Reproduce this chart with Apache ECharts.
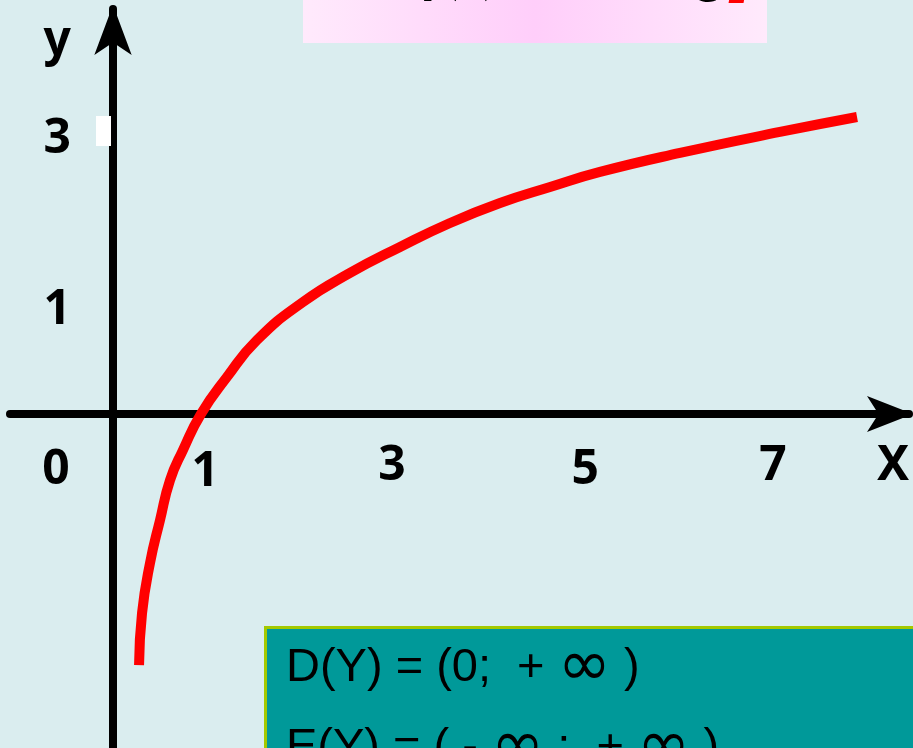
<!DOCTYPE html>
<html>
<head>
<meta charset="utf-8">
<script src="https://cdn.jsdelivr.net/npm/echarts@6/dist/echarts.min.js"></script>
<style>
html,body{margin:0;padding:0;background:#daedef;}
#c{width:913px;height:748px;}
</style>
</head>
<body>
<div id="c"></div>
<script>
// ---- data (y = log2 x, hand drawn) ----
const curveX = [0.278, 0.310, 0.395, 0.502, 0.609, 0.747, 0.940, 1.217, 1.538, 2.029, 2.531, 3.065, 3.599, 4.133, 4.667, 5.200, 6.055, 7.122, 7.945];
const curveY = [-2.670, -2.117, -1.586, -1.129, -0.704, -0.385, 0.000, 0.391, 0.784, 1.188, 1.496, 1.772, 2.027, 2.239, 2.409, 2.569, 2.771, 2.994, 3.153];
const xTickLabels = [0, 1, 3, 5, 7];
const yTickLabels = [1, 3];
const xAxisName = 'X';
const yAxisName = 'y';
const titleLeft = 'f(x) =';
const titleLog = 'log';
const titleBase = '2';
const titleArg = 'x';
const domainParts = ['D(Y) = (0;  + ', '\u221E', ' )'];
const rangeParts = ['E(Y) = ( - ', '\u221E', ' ;  + ', '\u221E', ' )'];

const chart = echarts.init(document.getElementById('c'), null, {renderer: 'canvas'});

const lblFont = {fontFamily: '"Noto Sans"', fontWeight: 'bold', fontSize: 48, color: '#000'};

const xRich = {
  a0: Object.assign({}, lblFont, {padding: [4, 114, 0, 0]}),
  a1: Object.assign({}, lblFont, {padding: [6, 3, 0, 0]}),
  a3: Object.assign({}, lblFont, {padding: [0, 4, 0, 0]}),
  a5: Object.assign({}, lblFont, {padding: [4, 0, 0, 8]}),
  a7: Object.assign({}, lblFont, {padding: [0, 0, 0, 9]})
};
const yRich = {
  b1: Object.assign({}, lblFont, {padding: [0, 0, 18, 0]}),
  b3: Object.assign({}, lblFont, {padding: [15, 0, 0, 0]})
};

function boxText(parts) {
  return parts.map(function (p) { return p === '\u221E' ? '{i|' + p + '}' : '{n|' + p + '}'; }).join('');
}
const boxRich = {
  n: {fontFamily: '"Liberation Sans"', fontSize: 47, fill: '#000', color: '#000'},
  i: {fontFamily: '"DejaVu Sans"', fontSize: 64, fill: '#000', color: '#000'}
};

const option = {
  backgroundColor: '#daedef',
  animation: false,
  grid: {left: 10, right: 4, top: 9, bottom: 0, containLabel: false, outerBoundsMode: 'none'},
  xAxis: {
    type: 'value',
    position: 'bottom',
    offset: -334,
    min: -1.1,
    max: 8.5,
    axisLine: {
      onZero: false,
      lineStyle: {color: '#000', width: 8},
      symbol: ['none', 'arrow'],
      symbolSize: [27, 46],
      symbolOffset: [0, 4]
    },
    axisTick: {show: false},
    splitLine: {show: false},
    axisLabel: {
      customValues: xTickLabels,
      margin: 28,
      verticalAlign: 'top',
      formatter: function (v) { return '{a' + v + '|' + v + '}'; },
      rich: xRich
    },
    name: xAxisName,
    nameLocation: 'end',
    nameGap: -16,
    nameTextStyle: Object.assign({}, lblFont, {align: 'center', verticalAlign: 'top', padding: [28, 0, 0, 0]})
  },
  yAxis: {
    type: 'value',
    position: 'left',
    offset: -103,
    min: -3.55,
    max: 4.3,
    axisLine: {
      onZero: false,
      lineStyle: {color: '#000', width: 8},
      symbol: ['none', 'arrow'],
      symbolSize: [28, 50],
      symbolOffset: [0, 4]
    },
    axisTick: {show: false},
    splitLine: {show: false},
    axisLabel: {
      customValues: yTickLabels,
      margin: 42,
      formatter: function (v) { return '{b' + v + '|' + v + '}'; },
      rich: yRich
    },
    name: yAxisName,
    nameLocation: 'end',
    nameGap: -32,
    nameTextStyle: Object.assign({}, lblFont, {align: 'right', verticalAlign: 'middle', padding: [0, 42, 0, 0]})
  },
  series: [{
    type: 'line',
    data: curveX.map(function (x, i) { return [x, curveY[i]]; }),
    smooth: 0.5,
    showSymbol: false,
    symbol: 'none',
    lineStyle: {color: '#ff0000', width: 10, cap: 'butt'},
    z: 5
  }],
  graphic: [
    {
      type: 'rect', z: 1,
      shape: {x: 303, y: -2, width: 464, height: 45},
      style: {fill: new echarts.graphic.LinearGradient(0, 0, 1, 0, [
        {offset: 0, color: '#ffeafc'}, {offset: 0.5, color: '#ffcefa'}, {offset: 1, color: '#ffeafc'}])}
    },
    {
      type: 'text', z: 2, x: 424, y: -25,
      style: {text: titleLeft, font: 'italic bold 56px "Liberation Serif"', fill: '#000', verticalAlign: 'middle', align: 'left'}
    },
    {
      type: 'text', z: 2, x: 728, y: -24,
      style: {text: titleLog, font: 'italic bold 56px "Liberation Serif"', fill: '#000', verticalAlign: 'middle', align: 'right'}
    },
    {
      type: 'text', z: 2, x: 729, y: -6,
      style: {text: titleBase, font: 'italic bold 36px "Liberation Serif"', fill: '#ff0000', verticalAlign: 'middle', align: 'left'}
    },
    {
      type: 'text', z: 2, x: 752, y: -30,
      style: {text: titleArg, font: 'italic bold 56px "Liberation Serif"', fill: '#000', verticalAlign: 'middle', align: 'left'}
    },
    {
      type: 'rect', z: 1,
      shape: {x: 96, y: 116, width: 15, height: 30},
      style: {fill: '#ffffff'}
    },
    {
      type: 'rect', z: 1,
      shape: {x: 265.5, y: 627.5, width: 700, height: 200},
      style: {fill: '#009999', stroke: '#a4c900', lineWidth: 3}
    },
    {
      type: 'text', z: 2, x: 286, y: 668,
      style: {text: boxText(domainParts), rich: boxRich, verticalAlign: 'middle', align: 'left'}
    },
    {
      type: 'text', z: 2, x: 286, y: 748,
      style: {text: boxText(rangeParts), rich: boxRich, verticalAlign: 'middle', align: 'left'}
    }
  ]
};
chart.setOption(option);
</script>
</body>
</html>
